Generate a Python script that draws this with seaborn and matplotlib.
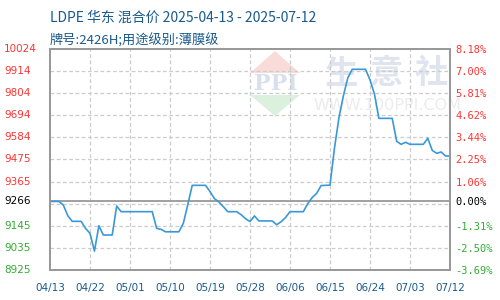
import matplotlib
matplotlib.use("Agg")
import matplotlib.pyplot as plt
import seaborn as sns
import pandas as pd
import numpy as np
from matplotlib.patches import Polygon

# ---- data ----
dates = ["2025-04-13", "2025-04-15", "2025-04-16", "2025-04-17", "2025-04-18", "2025-04-20",
         "2025-04-21", "2025-04-22", "2025-04-23", "2025-04-24", "2025-04-25", "2025-04-27",
         "2025-04-28", "2025-04-29", "2025-05-06", "2025-05-07", "2025-05-08", "2025-05-09",
         "2025-05-12", "2025-05-13", "2025-05-14", "2025-05-15", "2025-05-18", "2025-05-19",
         "2025-05-20", "2025-05-21", "2025-05-22", "2025-05-23", "2025-05-25", "2025-05-26",
         "2025-05-27", "2025-05-28", "2025-05-29", "2025-05-30", "2025-06-02", "2025-06-03",
         "2025-06-04", "2025-06-05", "2025-06-06", "2025-06-09", "2025-06-10", "2025-06-11",
         "2025-06-12", "2025-06-13", "2025-06-15", "2025-06-16", "2025-06-17", "2025-06-18",
         "2025-06-19", "2025-06-20", "2025-06-23", "2025-06-24", "2025-06-25", "2025-06-26",
         "2025-06-29", "2025-06-30", "2025-07-01", "2025-07-02", "2025-07-03", "2025-07-06",
         "2025-07-07", "2025-07-08", "2025-07-09", "2025-07-10", "2025-07-11", "2025-07-12"]
prices = [9266, 9266, 9248, 9195, 9167, 9167,
          9132, 9107, 9019, 9145, 9099, 9099,
          9243, 9215, 9215, 9132, 9127, 9115,
          9115, 9157, 9250, 9346, 9346, 9315,
          9280, 9263, 9240, 9215, 9215, 9200,
          9180, 9166, 9194, 9169, 9169, 9150,
          9165, 9186, 9215, 9215, 9255, 9286,
          9306, 9345, 9347, 9530, 9680, 9790,
          9880, 9923, 9923, 9870, 9800, 9679,
          9679, 9565, 9550, 9560, 9550, 9550,
          9580, 9520, 9505, 9512, 9492, 9492]

base_price = 9266
y_min, y_max = 8925, 10024
left_labels = ["8925", "9035", "9145", "9266", "9365", "9475", "9584", "9694", "9804", "9914", "10024"]
right_labels = ["-3.69%", "-2.50%", "-1.31%", "0.00%", "1.06%", "2.25%", "3.44%", "4.62%",
                "5.81%", "7.00%", "8.18%"]
x_tick_labels = ["04/13", "04/22", "05/01", "05/10", "05/19", "05/28", "06/06", "06/15",
                 "06/24", "07/03", "07/12"]
title1 = "LDPE 华东 混合价 2025-04-13 - 2025-07-12"
title2 = "牌号:2426H;用途级别:薄膜级"

# ---- style ----
sns.set_theme(style="white")
plt.rcParams["font.family"] = ["DejaVu Sans", "Noto Sans CJK SC"]

df = pd.DataFrame({"date": pd.to_datetime(dates), "price": prices})
df["day"] = (df["date"] - df["date"].iloc[0]).dt.days

fig = plt.figure(figsize=(5, 3), dpi=100)
ax = fig.add_axes([0.1, 0.1, 0.8, 0.7367])

RED = "#ff3333"
GREEN = "#33aa33"
BLUE_TXT = "#1a5a8c"
GRID = "#cccccc"

n_days = 90
ax.set_xlim(0, n_days)
ax.set_ylim(y_min, y_max)

# dashed grid
xt = np.linspace(0, n_days, len(x_tick_labels))
for x in xt[1:-1]:
    ax.axvline(x, color=GRID, lw=0.9, ls=(0, (3, 2)), zorder=0)
for y in np.linspace(y_min, y_max, len(left_labels))[1:-1]:
    ax.axhline(y, color=GRID, lw=0.9, ls=(0, (3, 2)), zorder=0)
ax.axhline(base_price, color="#999999", lw=1.3, zorder=1)

# watermark
wm_ax = fig.add_axes([0, 0, 1, 1], zorder=-1)
wm_ax.set_xlim(0, 500)
wm_ax.set_ylim(300, 0)
wm_ax.axis("off")
wm_ax.add_patch(Polygon([[275, 51], [300, 73], [250, 73]], closed=True, color="#f9dcda", lw=0))
wm_ax.add_patch(Polygon([[250, 95], [300, 95], [275, 116]], closed=True, color="#dcf0de", lw=0))
wm_ax.text(276, 84, "PPI", ha="center", va="center", fontsize=16, color="#d8e0ee",
           family="DejaVu Serif", fontweight="bold")
for cx, ch in zip([342, 386, 431], ["生", "意", "社"]):
    wm_ax.text(cx, 74, ch, ha="center", va="center", fontsize=24, color="#e0e4ee",
               family=["Noto Sans CJK SC"], fontweight="bold")
wm_ax.text(387, 106, "WWW.100PPI.COM", ha="center", va="center", fontsize=11.5, color="#ececec",
           family="DejaVu Sans")
ax.patch.set_alpha(0)

sns.lineplot(data=df, x="day", y="price", ax=ax, color="#3a98d8", lw=1.2, zorder=3)

# ticks
tick_vals = [float(v) for v in left_labels]
ax.set_xticks(xt)
ax.set_xticklabels(x_tick_labels, fontsize=7.5, color=BLUE_TXT)
ax.set_yticks(tick_vals)
ax.set_yticklabels([])
ax.tick_params(axis="both", length=0)
ax.tick_params(axis="x", pad=9)

def lab_color(v):
    return "black" if v == base_price else (RED if v > base_price else GREEN)

ytrans = ax.get_yaxis_transform()
for v, s in zip(tick_vals, left_labels):
    ax.text(-0.115, v, s, transform=ytrans, ha="left", va="center", fontsize=7.5,
            color=lab_color(v), clip_on=False)

ax2 = ax.twinx()
ax2.set_ylim(y_min, y_max)
ax2.set_yticks(tick_vals)
ax2.set_yticklabels(right_labels, fontsize=7.5, family="DejaVu Sans Mono")
ax2.tick_params(axis="y", length=0, pad=4)
for lbl, v in zip(ax2.get_yticklabels(), tick_vals):
    lbl.set_color(lab_color(v))

for a in (ax, ax2):
    for s in a.spines.values():
        s.set_color("#999999")
        s.set_linewidth(1.3)
ax.set_xlabel("")
ax.set_ylabel("")

fig.text(0.1, 0.94, title1, fontsize=10, color=BLUE_TXT, ha="left", va="center",
         family=["Noto Sans CJK SC", "DejaVu Sans"])
fig.text(0.1, 0.865, title2, fontsize=9.5, color=BLUE_TXT, ha="left", va="center",
         family=["Noto Sans CJK SC", "DejaVu Sans"])

fig.savefig("out.png", dpi=100)
